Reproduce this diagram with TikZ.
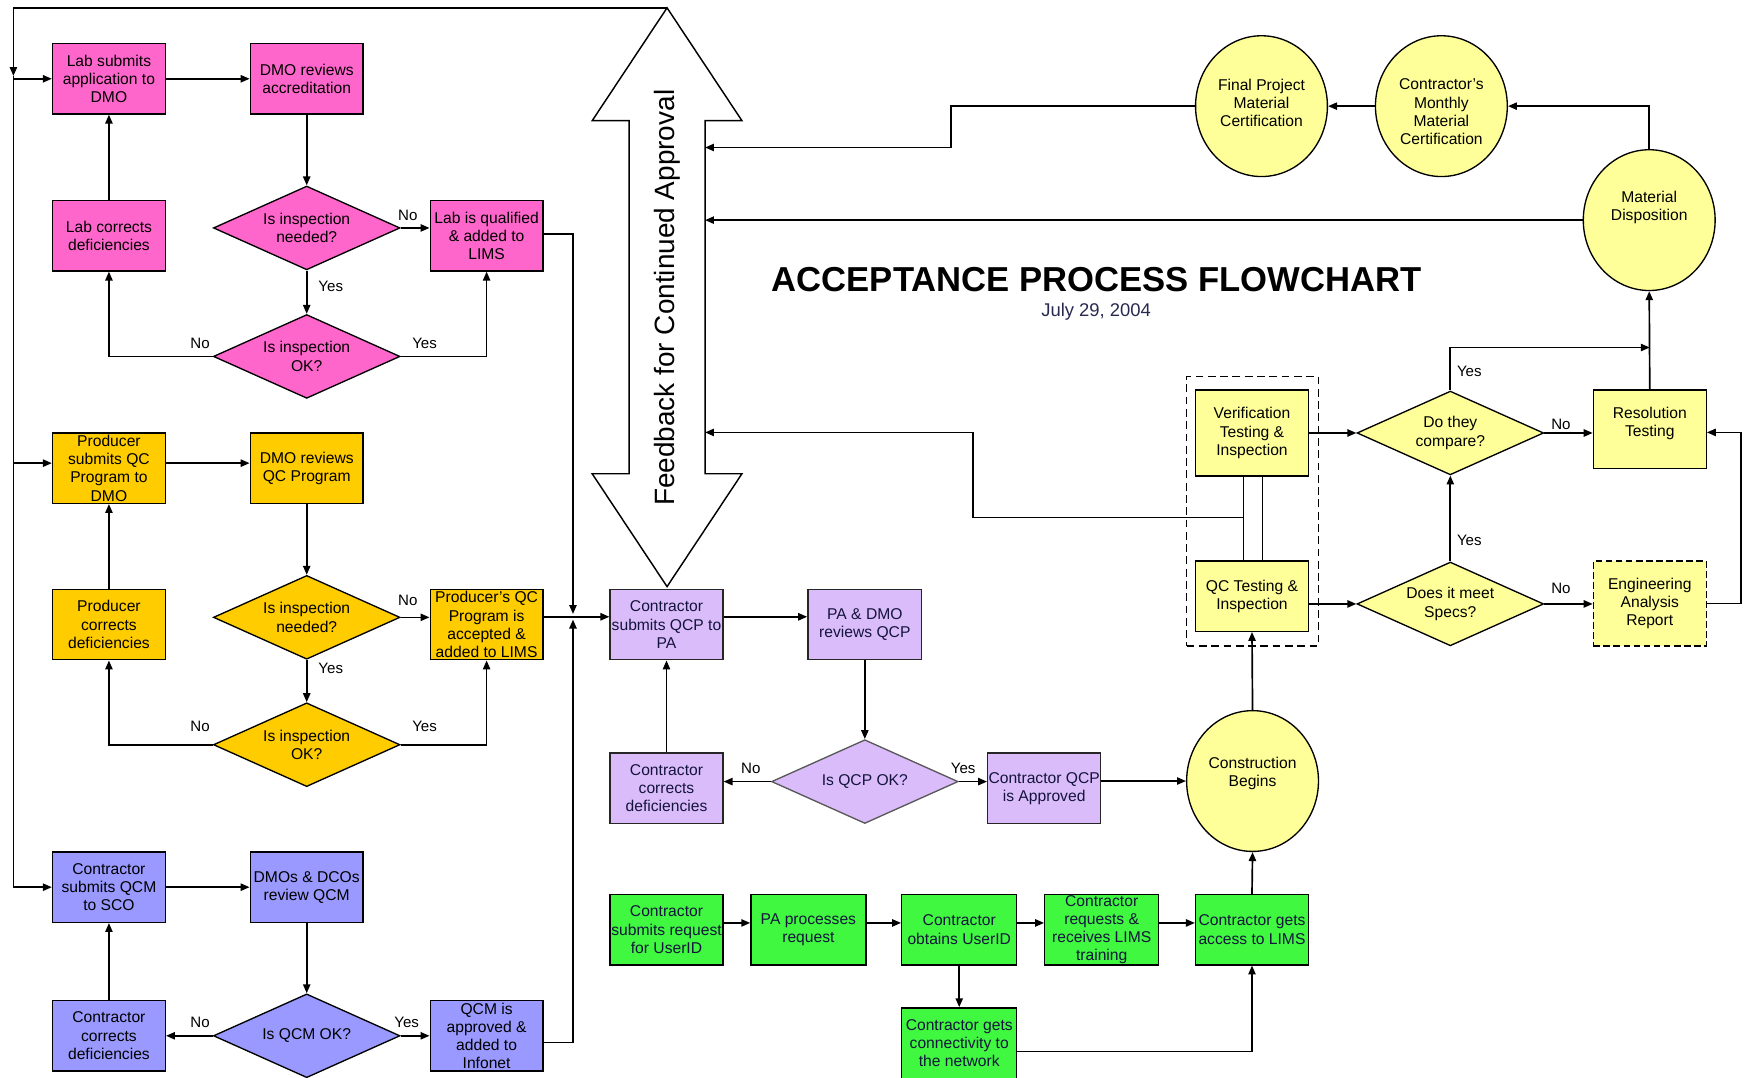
\documentclass[tikz,border=0pt]{standalone}
\usepackage{fontspec}
\setmainfont{Liberation Sans}
\usetikzlibrary{arrows.meta,shapes.geometric,calc}
\definecolor{cpink}{RGB}{255,102,204}
\definecolor{corange}{RGB}{255,204,0}
\definecolor{cblue}{RGB}{153,153,255}
\definecolor{cyel}{RGB}{255,255,153}
\definecolor{cpurp}{RGB}{218,188,250}
\definecolor{cgreen}{RGB}{64,248,64}
\definecolor{cdate}{RGB}{40,40,80}
\definecolor{cnavy}{RGB}{20,20,60}
\begin{document}
\begin{tikzpicture}[x=1pt,y=-1pt,
  base/.style={draw, line width=1.2pt, align=center, inner sep=0pt, font=\fontsize{14}{16.3}\selectfont},
  procbox/.style={base, rectangle, minimum width=101pt, minimum height=63pt},
  decis/.style={base, diamond, aspect=2.2, minimum width=167pt, minimum height=75pt},
  oval/.style={base, ellipse, minimum width=118pt, minimum height=126pt, fill=cyel},
  txt/.style={align=center, inner sep=0pt, font=\fontsize{14}{16.3}\selectfont},
  lbl/.style={inner sep=0pt, font=\fontsize{13.5}{16}\selectfont},
  ln/.style={line width=1.5pt},
  arr/.style={ln, -{Triangle[length=8pt,width=6.5pt]}},
  pfill/.style={fill=cpurp, text=cnavy, draw=black!85},
  gfill/.style={fill=cgreen, text=cnavy},
]
\useasboundingbox (0,0) rectangle (1568,964);

% ---------- double arrow ----------
\draw[line width=1.3pt, fill=white] (597,7) -- (664,108) -- (631,108) -- (631,424) -- (664,424) -- (597,525) -- (530,424) -- (563,424) -- (563,108) -- (530,108) -- cycle;
\coordinate (datop) at (597,7);
\node[rotate=90, font=\fontsize{25}{30}\selectfont, inner sep=0pt] (fb) at (597,266.5) {Feedback for Continued Approval};

% ---------- title ----------
\node[font=\bfseries\fontsize{31}{36}\selectfont, inner sep=0pt] (title) at (981.5,250) {ACCEPTANCE PROCESS FLOWCHART};
\node[font=\fontsize{16.5}{19}\selectfont, inner sep=0pt, text=cdate] (date) at (981,279) {July 29, 2004};

% ---------- pink ----------
\node[procbox, fill=cpink] (lab1) at (97.5,70.5) {Lab submits\\application to\\DMO};
\node[procbox, fill=cpink] (dmo1) at (274.5,70.5) {DMO reviews\\accreditation};
\node[procbox, fill=cpink] (cor1) at (97.5,211) {Lab corrects\\deficiencies};
\node[decis, fill=cpink] (d1a) at (274.5,204) {Is inspection\\needed?};
\node[procbox, fill=cpink] (q1) at (435.5,211) {Lab is qualified\\\& added to\\LIMS};
\node[decis, fill=cpink] (d1b) at (274.5,319) {Is inspection\\OK?};

% ---------- orange ----------
\node[procbox, fill=corange] (lab2) at (97.5,419) {Producer\\submits QC\\Program to\\DMO};
\node[procbox, fill=corange] (dmo2) at (274.5,419) {DMO reviews\\QC Program};
\node[procbox, fill=corange] (cor2) at (97.5,559) {Producer\\corrects\\deficiencies};
\node[decis, fill=corange] (d2a) at (274.5,552.5) {Is inspection\\needed?};
\node[procbox, fill=corange] (q2) at (435.5,559) {Producer's QC\\Program is\\accepted \&\\added to LIMS};
\node[decis, fill=corange] (d2b) at (274.5,666.5) {Is inspection\\OK?};

% ---------- blue ----------
\node[procbox, fill=cblue] (lab3) at (97.5,794) {Contractor\\submits QCM\\to SCO};
\node[procbox, fill=cblue] (dmo3) at (274.5,794) {DMOs \& DCOs\\review QCM};
\node[procbox, fill=cblue] (cor3) at (97.5,927) {Contractor\\corrects\\deficiencies};
\node[decis, fill=cblue] (d3) at (274.5,927) {Is QCM OK?};
\node[procbox, fill=cblue] (q3) at (435.5,927) {QCM is\\approved \&\\added to\\Infonet};

% ---------- purple ----------
\node[procbox, pfill] (qcp) at (596.5,559) {Contractor\\submits QCP to\\PA};
\node[procbox, pfill, minimum width=102pt] (pad) at (774,559) {PA \& DMO\\reviews QCP};
\node[decis, pfill, draw=black!65] (dq) at (774,699.5) {Is QCP OK?};
\node[procbox, pfill] (cor4) at (596.5,705.5) {Contractor\\corrects\\deficiencies};
\node[procbox, pfill] (app) at (934.5,705.5) {Contractor QCP\\is Approved};

% ---------- green ----------
\node[procbox, gfill] (g1) at (596.5,832) {Contractor\\submits request\\for UserID};
\node[procbox, gfill, minimum width=103pt] (g2) at (723.5,832) {PA processes\\request};
\node[procbox, gfill, minimum width=103pt] (g3) at (858.5,832) {Contractor\\obtains UserID};
\node[procbox, gfill, minimum width=102pt] (g4) at (986,832) {Contractor\\requests \&\\receives LIMS\\training};
\node[procbox, gfill] (g5) at (1120.5,832) {Contractor gets\\access to LIMS};
\node[procbox, gfill, minimum width=103pt] (g6) at (858.5,933.5) {Contractor gets\\connectivity to\\the network};

% ---------- right side ----------
\node[oval] (cb) at (1121,699) {};
\node[txt] (cbt) at (1121,692) {Construction\\Begins};
\node[oval] (md) at (1476,197) {};
\node[txt] (mdt) at (1476,186) {Material\\Disposition};
\node[oval] (mmc) at (1290,95) {};
\node[txt] (mmct) at (1290,100) {Contractor's\\Monthly\\Material\\Certification};
\node[oval] (fpm) at (1129,95) {};
\node[txt] (fpmt) at (1129,92) {Final Project\\Material\\Certification};

\node[draw, line width=1.2pt, dash pattern=on 7pt off 4pt, minimum width=118pt, minimum height=241pt, inner sep=0pt] (grp) at (1121,457.5) {};
\node[procbox, fill=cyel, minimum height=77pt] (ver) at (1120.5,387.5) {Verification\\Testing \&\\Inspection};
\node[procbox, fill=cyel] (qct) at (1120.5,533.5) {QC Testing \&\\Inspection};
\node[decis, fill=cyel] (dc) at (1298,387.5) {Do they\\compare?};
\node[decis, fill=cyel] (dm) at (1298,540.5) {Does it meet\\Specs?};
\node[procbox, fill=cyel, minimum height=70pt] (res) at (1476.5,384) {};
\node[txt] (rest) at (1476.5,379) {Resolution\\Testing};
\node[procbox, fill=cyel, dash pattern=on 6pt off 3pt, minimum height=76pt] (ear) at (1476.5,540) {Engineering\\Analysis\\Report};

% ---------- left loop ----------
\coordinate (lt) at (12,7);
\coordinate (lm) at (12,68);
\coordinate (lb) at (12,794);
\draw[arr] (datop) -- (lt) -- (lm);
\draw[ln] (lm) -- (lb);
\draw[arr] (lb) -- (lab3.west);
\draw[arr] (lab1.west -| lt) -- (lab1.west);
\coordinate (e2) at ([yshift=4.5pt]lab2.west);
\draw[arr] (e2 -| lt) -- (e2);

% ---------- pink connectors ----------
\draw[arr] (lab1.east) -- (dmo1.west);
\draw[arr] (dmo1.south) -- (d1a.north);
\draw[arr] (d1a.east) -- (d1a.east -| q1.west);
\draw[arr] (d1a.south) -- (d1b.north);
\draw[arr] (d1b.west) -| (cor1.south);
\draw[arr] (d1b.east) -| (q1.south);
\draw[arr] (cor1.north) -- (lab1.south);

% ---------- junction ----------
\coordinate (jx) at (512.8,552);
\coordinate (jxa) at (512.8,549.5);
\coordinate (jxb) at (512.8,554.5);
\draw[arr] ([yshift=1.5pt]q1.east) -| (jxa);
\draw[ln] (q2.east |- jx) -- (jx);
\draw[arr] (jx) -- (qcp.west |- jx);

% ---------- orange connectors ----------
\draw[arr] ([yshift=4.5pt]lab2.east) -- ([yshift=4.5pt]dmo2.west);
\draw[arr] (dmo2.south) -- (d2a.north);
\draw[arr] (d2a.east) -- (d2a.east -| q2.west);
\draw[arr] (d2a.south) -- (d2b.north);
\draw[arr] (d2b.west) -| (cor2.south);
\draw[arr] (d2b.east) -| (q2.south);
\draw[arr] (cor2.north) -- (lab2.south);

% ---------- blue connectors ----------
\draw[arr] (lab3.east) -- (dmo3.west);
\draw[arr] (dmo3.south) -- (d3.north);
\draw[arr] (d3.west) -- (cor3.east);
\draw[arr] (d3.east) -- (q3.west);
\draw[arr] (cor3.north) -- (lab3.south);
\draw[arr] ([yshift=-6pt]q3.east) -| (jxb);

% ---------- purple connectors ----------
\draw[arr] ([yshift=7pt]qcp.east) -- ([yshift=7pt]pad.west);
\draw[arr] (pad.south) -- (dq.north);
\draw[arr] (dq.west) -- (dq.west -| cor4.east);
\draw[arr] (dq.east) -- (dq.east -| app.west);
\draw[arr] (cor4.north) -- (qcp.south);
\draw[arr] (app.east |- cb.west) -- (cb.west);

% ---------- green connectors ----------
\draw[arr] ([yshift=6pt]g1.east) -- ([yshift=6pt]g2.west);
\draw[arr] ([yshift=6pt]g2.east) -- ([yshift=6pt]g3.west);
\draw[arr] ([yshift=6pt]g3.east) -- ([yshift=6pt]g4.west);
\draw[arr] ([yshift=6pt]g4.east) -- ([yshift=6pt]g5.west);
\draw[arr] (g3.south) -- (g6.north);
\draw[arr] ([yshift=-7.5pt]g6.east) -| (g5.south);
\draw[arr] (g5.north) -- (cb.south);

% ---------- right connectors ----------
\draw[arr] (cb.north) -- (qct.south);
\draw[arr] (qct.east |- dm.west) -- (dm.west);
\draw[arr] (ver.east) -- (dc.west);
\draw[arr] (dc.east) -- (dc.east -| res.west);
\draw[arr] (dm.east) -- (dm.east -| ear.west);
\draw[arr] (dm.north) -- (dc.south);
\coordinate (ycor) at (1298,311);
\draw[arr] (dc.north) -- (ycor) -- (ycor -| res.north);
\draw[arr] (res.north) -- (md.south);
\coordinate (erx) at (1558,540);
\coordinate (rese) at ([yshift=-3pt]res.east);
\draw[arr] (ear.east) -- (erx) |- (rese);
\draw[arr] (md.north) |- (mmc.east);
\draw[arr] (mmc.west) -- (fpm.east);
\coordinate (fk) at (851,132);
\coordinate (sh1) at (631,132);
\draw[arr] (fpm.west) -| (fk) -- (sh1);
\coordinate (sh2) at (631,197);
\draw[arr] (md.west) -- (sh2);
\coordinate (v1) at (1113,463);
\coordinate (v2) at (1130,463);
\draw[ln] (v1 |- ver.south) -- (v1 |- qct.north);
\draw[ln] (v2 |- ver.south) -- (v2 |- qct.north);
\coordinate (vk) at (871,387);
\coordinate (sh3) at (631,387);
\draw[arr] (v1) -| (vk) -- (sh3);

% ---------- labels ----------
\node[lbl] (l1) at (365,193) {No};
\node[lbl] (l2) at (296,256) {Yes};
\node[lbl] (l3) at (179,307) {No};
\node[lbl] (l4) at (380,307) {Yes};
\node[lbl] (l5) at (365,537) {No};
\node[lbl] (l6) at (296,598) {Yes};
\node[lbl] (l7) at (179,650) {No};
\node[lbl] (l8) at (380,650) {Yes};
\node[lbl] (l9) at (179,915) {No};
\node[lbl] (l10) at (364,915) {Yes};
\node[lbl] (l11) at (672,688) {No};
\node[lbl] (l12) at (862,688) {Yes};
\node[lbl] (l13) at (1397,380) {No};
\node[lbl] (l14) at (1397,527) {No};
\node[lbl] (l15) at (1315,332) {Yes};
\node[lbl] (l16) at (1315,484) {Yes};
\end{tikzpicture}
\end{document}
